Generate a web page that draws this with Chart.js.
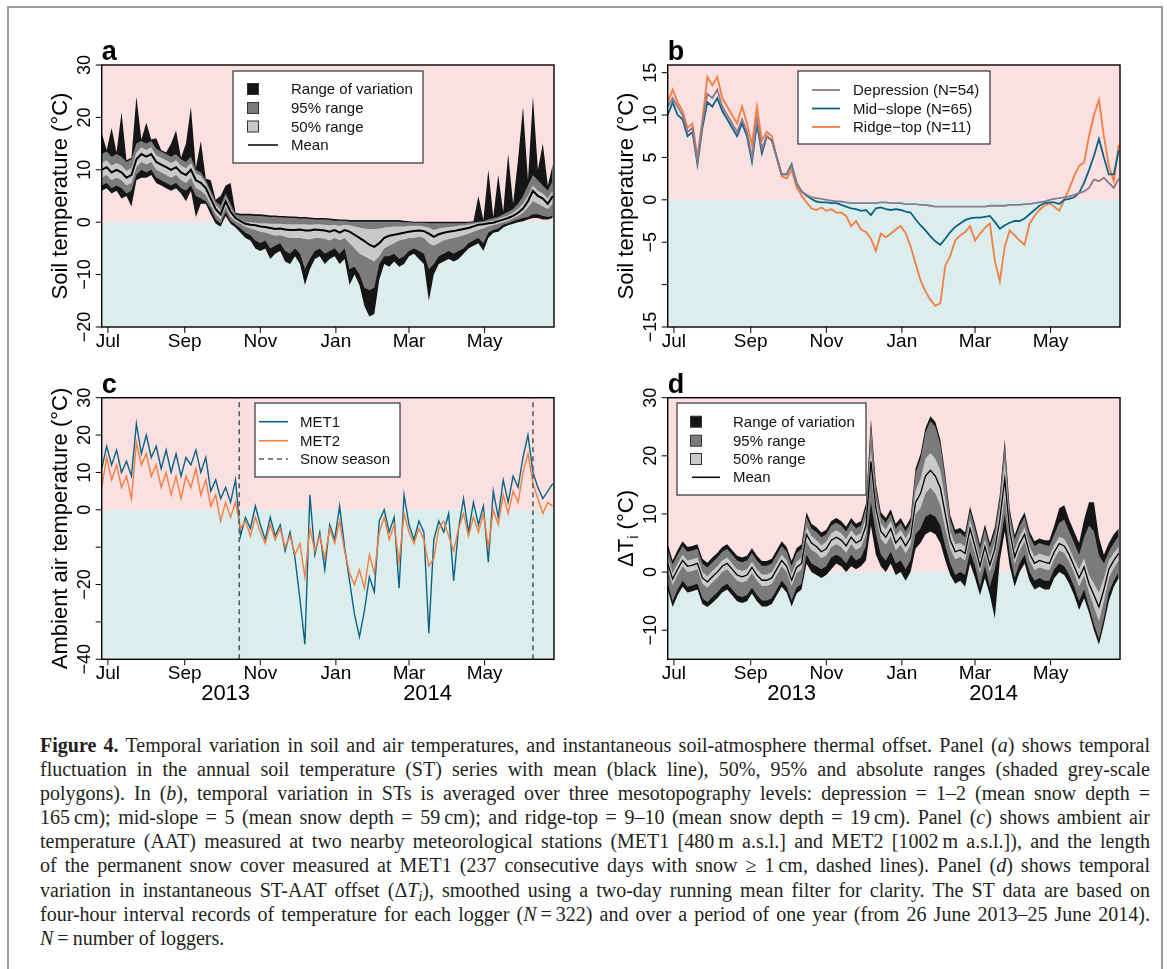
<!DOCTYPE html>
<html lang="en">
<head>
<meta charset="UTF-8" />
<title>Figure 4 - Soil and air temperatures</title>
<script src="https://cdn.jsdelivr.net/npm/chart.js"></script>
<style>
  body { margin: 0; background: #fff; width: 1167px; height: 969px; overflow: hidden; position: relative; }
  #frame { position: absolute; left: 7px; top: 6px; width: 1156px; height: 990px; border: 2px solid #9b9b9b; box-sizing: border-box; }
  canvas { position: absolute; }
  #caption { position: absolute; left: 40px; top: 733px; width: 1110px; font-family: "Liberation Serif", "DejaVu Serif", serif; font-size: 20px; line-height: 24.1px; color: #231f20; }
  #caption div { text-align: justify; text-align-last: justify; white-space: nowrap; }
  #caption div.last { text-align-last: left; }
  #caption sub { font-size: 0.7em; vertical-align: -0.25em; line-height: 0; }
</style>
</head>
<body>
<div id="frame"></div>
<canvas id="chartA" width="583" height="345" style="left:0;top:25px"></canvas>
<canvas id="chartB" width="584" height="345" style="left:583px;top:25px"></canvas>
<canvas id="chartC" width="583" height="345" style="left:0;top:370px"></canvas>
<canvas id="chartD" width="584" height="345" style="left:583px;top:370px"></canvas>

<div id="caption">
<div><b>Figure 4.</b> Temporal variation in soil and air temperatures, and instantaneous soil-atmosphere thermal offset. Panel (<i>a</i>) shows temporal</div>
<div>fluctuation in the annual soil temperature (ST) series with mean (black line), 50%, 95% and absolute ranges (shaded grey-scale</div>
<div>polygons). In (<i>b</i>), temporal variation in STs is averaged over three mesotopography levels: depression = 1–2 (mean snow depth =</div>
<div>165&thinsp;cm); mid-slope = 5 (mean snow depth = 59&thinsp;cm); and ridge-top = 9–10 (mean snow depth = 19&thinsp;cm). Panel (<i>c</i>) shows ambient air</div>
<div>temperature (AAT) measured at two nearby meteorological stations (MET1 [480&thinsp;m a.s.l.] and MET2 [1002&thinsp;m a.s.l.]), and the length</div>
<div>of the permanent snow cover measured at MET1 (237 consecutive days with snow ≥ 1&thinsp;cm, dashed lines). Panel (<i>d</i>) shows temporal</div>
<div>variation in instantaneous ST-AAT offset (Δ<i>T<sub>i</sub></i>), smoothed using a two-day running mean filter for clarity. The ST data are based on</div>
<div>four-hour interval records of temperature for each logger (<i>N</i>&#8239;=&#8239;322) and over a period of one year (from 26 June 2013–25 June 2014).</div>
<div class="last"><i>N</i>&#8239;=&#8239;number of loggers.</div>
</div>

<script>
// day 0 = 26 June 2013
const days = [
  0, 4, 8, 12, 16, 20, 24, 28, 32, 36,
  40, 44, 48, 52, 56, 60, 64, 68, 72, 76,
  80, 84, 88, 92, 96, 100, 104, 108, 112, 116,
  120, 124, 128, 132, 136, 140, 144, 148, 152, 156,
  160, 164, 168, 172, 176, 180, 184, 188, 192, 196,
  200, 204, 208, 212, 216, 220, 224, 228, 232, 236,
  240, 244, 248, 252, 256, 260, 264, 268, 272, 276,
  280, 284, 288, 292, 296, 300, 304, 308, 312, 316,
  320, 324, 328, 332, 336, 340, 344, 348, 352, 356,
  360, 364
];
const monthDays = [5, 67, 128, 189, 248, 309];
const monthLabels = ['Jul', 'Sep', 'Nov', 'Jan', 'Mar', 'May'];
const yearDays = [100, 263];
const yearLabels = ['2013', '2014'];
const snowSeason = [111, 348];

// panel a: soil temperature, all loggers
const aMean = [
  10, 10.5, 9.5, 10, 9.5, 8.5, 9, 12, 13, 12.5,
  13, 11.5, 11, 10.5, 10, 10.5, 9.5, 9, 10, 8,
  7.5, 6.5, 4.5, 2.5, 1.5, 4, 2, 0.8, 0.2, -0.3,
  -0.5, -0.6, -0.8, -0.9, -1.1, -1.3, -1.2, -1.4, -1.5, -1.5,
  -1.4, -1.6, -1.6, -1.4, -1.5, -1.6, -1.8, -1.5, -2.0, -1.5,
  -1.8, -2.4, -3.0, -3.6, -4.3, -4.7, -4.0, -3.0, -2.6, -2.4,
  -2.2, -2.0, -1.8, -1.7, -1.6, -1.7, -2.2, -2.8, -2.3, -2.0,
  -1.8, -1.7, -1.5, -1.3, -1.1, -0.8, -0.5, -0.4, -0.2, -0.1,
  0.2, 0.5, 0.8, 1.2, 1.8, 2.6, 4.0, 6.0, 5.0, 4.5,
  3.5, 5.0
];
const aMax = [
  17, 13.8, 18, 13.3, 21, 11.8, 12.3, 24, 15.8, 19,
  15.8, 16, 13.8, 13.3, 15, 17.5, 12.3, 15, 22, 10.3,
  15.5, 8.3, 8, 4.3, 5, 7, 7.5, 1.8, 1.6, 1.6,
  1.6, 1.5, 1.5, 1.4, 1.3, 1.3, 1.2, 1.2, 1.1, 1.1,
  1.0, 1.0, 0.9, 0.8, 0.8, 0.8, 0.7, 0.6, 0.5, 0.5,
  0.4, 0.4, 0.4, 0.4, 0.4, 0.4, 0.4, 0.4, 0.4, 0.4,
  0.4, 0.3, 0.2, 0.1, 0.1, 0.1, 0.1, 0.1, 0.1, 0.1,
  0.1, 0.1, 0.1, 0.1, 0.1, 0.2, 5, 0.4, 10, 1,
  9, 2, 13, 3.5, 12, 22, 8, 24, 10, 15,
  7, 11
];
const a95Hi = [
  13, 13.5, 12.5, 13, 12.5, 11.5, 12, 15, 15.5, 15,
  15.5, 14, 13.5, 13, 12.5, 13, 12, 11.5, 12.5, 10,
  9.5, 8, 6, 4, 3.2, 5.5, 3.5, 1.5, 1.3, 1.3,
  1.3, 1.2, 1.2, 1.1, 1.0, 1.0, 0.9, 0.9, 0.8, 0.8,
  0.7, 0.7, 0.6, 0.5, 0.5, 0.5, 0.4, 0.3, 0.3, 0.3,
  0.1, 0.1, 0.1, 0.1, 0.1, 0.1, 0.1, 0.1, 0.1, 0.1,
  0.1, 0, 0, -0.1, -0.1, -0.1, -0.2, -0.2, -0.2, -0.2,
  -0.2, -0.2, -0.2, -0.2, -0.1, 0, 0.1, 0.2, 0.5, 0.8,
  1, 1.5, 2, 2.5, 3.5, 5, 7, 9, 8, 7,
  6, 8
];
const a50Hi = [
  11.3, 11.8, 10.8, 11.3, 10.8, 9.8, 10.3, 13.3, 14.3, 13.8,
  14.3, 12.8, 12.3, 11.8, 11.3, 11.8, 10.8, 10.3, 11.3, 9.3,
  8.8, 7.5, 5.4, 3.3, 2.3, 4.8, 2.7, 1.1, 0.5, 0,
  0, -0.1, -0.2, -0.2, -0.3, -0.3, -0.3, -0.4, -0.4, -0.4,
  -0.4, -0.4, -0.5, -0.4, -0.4, -0.5, -0.6, -0.5, -0.7, -0.5,
  -0.6, -0.8, -1.0, -1.2, -1.3, -1.3, -1.2, -1.0, -0.9, -0.8,
  -0.8, -0.8, -0.7, -0.7, -0.7, -0.8, -1.0, -1.5, -1.2, -1.0,
  -0.9, -0.8, -0.7, -0.6, -0.5, -0.3, -0.1, 0, 0.2, 0.3,
  0.6, 1, 1.3, 1.8, 2.5, 3.5, 5, 7, 6, 5.5,
  4.5, 6
];
const a50Lo = [
  8.5, 9, 8, 8.5, 8, 7, 7.5, 10.5, 11.5, 11,
  11.5, 10, 9.5, 9, 8.5, 9, 8, 7.5, 8.5, 6.5,
  6, 5.2, 3.3, 1.5, 0.5, 3, 1, 0.2, -0.3, -0.9,
  -1.2, -1.5, -1.8, -2, -2.3, -2.6, -2.5, -2.8, -3, -3,
  -3, -3.2, -3.3, -3, -3, -3.2, -3.5, -3, -3.5, -3,
  -4, -5, -6, -6.5, -7, -7.5, -6.5, -5, -4.5, -4,
  -3.5, -3.3, -3, -3, -2.8, -3, -4, -4.5, -4, -3.5,
  -3.2, -3, -2.8, -2.5, -2.2, -1.8, -1.5, -1.2, -0.8, -0.6,
  -0.3, 0, 0.3, 0.7, 1.2, 1.8, 2.8, 4, 3.5, 3,
  2.5, 3.5
];
const a95Lo = [
  7, 7.5, 6.5, 7, 6.5, 5.5, 6, 9, 10, 9.5,
  10, 8.5, 8, 7.5, 7, 7.5, 6.5, 6, 7, 5,
  4.5, 4, 2.5, 0.5, -0.3, 2, 0.3, -0.5, -1.2, -2,
  -2.5, -3.5, -4, -3.5, -5, -4.5, -4, -5.5, -6, -5,
  -6, -9, -7, -5.5, -5, -6, -5.5, -5, -6, -5,
  -9, -8.5, -10, -12.5, -13, -12.5, -8, -6.5, -6.5, -6,
  -7, -6.5, -5.5, -5, -5.5, -6, -9, -8, -6.5, -6,
  -5.5, -6, -5.5, -5, -4, -3.5, -3, -4, -2, -1.5,
  -1.2, -0.5, -0.2, 0.2, 0.5, 0.8, 1, 1.5, 1.5, 1.2,
  1, 1.2
];
const aMin = [
  6, 6.5, 5.5, 6, 4.5, 5, 3, 8, 8.5, 8.5,
  9, 7.5, 7, 6.5, 6, 6.5, 5.5, 4, 6, 1,
  3.5, 3.5, 1.5, -0.3, -0.8, 1.2, -0.3, -1, -2, -3,
  -3.5, -5, -5.5, -5, -7, -6, -5.5, -7.5, -8, -6.5,
  -8, -12, -9, -7, -6.5, -8, -7, -6.5, -8, -7,
  -12, -10, -12, -16, -18, -17.5, -11, -8, -8.5, -7.5,
  -8.5, -8, -6.5, -6, -7, -8, -15, -10, -8, -7.5,
  -7, -7.5, -7, -6, -5, -4.5, -4, -5.5, -3, -2,
  -1.8, -1, -0.6, -0.3, 0, 0.2, 0.5, 0.8, 0.8, 0.5,
  0.5, 0.8
];

// panel b: soil temperature by mesotopography
const bDepression = [
  11, 12, 11, 10, 8, 8.5, 4.5, 9, 12.5, 12,
  13, 11, 10, 9, 8, 9.5, 8, 5, 9.5, 6,
  7.5, 7, 5, 3, 3, 4, 2, 1, 0.6, 0.3,
  0.2, 0.1, 0.0, -0.1, -0.2, -0.2, -0.3, -0.4, -0.4, -0.4,
  -0.4, -0.4, -0.4, -0.3, -0.3, -0.4, -0.4, -0.4, -0.5, -0.5,
  -0.5, -0.6, -0.6, -0.7, -0.8, -0.8, -0.8, -0.8, -0.8, -0.8,
  -0.8, -0.8, -0.8, -0.8, -0.8, -0.7, -0.7, -0.7, -0.7, -0.6,
  -0.6, -0.6, -0.5, -0.5, -0.4, -0.3, -0.2, 0.0, 0.1, 0.2,
  0.3, 0.4, 0.6, 0.8, 1.0, 1.4, 2.4, 2.2, 2.6, 2.0,
  1.4, 2.5
];
const bMidSlope = [
  10, 11.5, 10, 9.5, 7.5, 8, 4.2, 8.5, 11.5, 11,
  12, 10.5, 9.5, 8.5, 7.5, 9, 7.5, 4.5, 9, 5.5,
  7.5, 7, 5, 3, 3, 4.2, 2, 1, 0.5, 0.1,
  -0.2, -0.3, -0.3, -0.4, -0.4, -0.6, -0.8, -1.0, -1.1, -1.3,
  -1.2, -1.8, -1.0, -0.9, -1.1, -1.2, -1.1, -1.2, -1.4, -1.5,
  -2.3, -3.0, -3.6, -4.3, -4.9, -5.3, -4.6, -3.8, -3.2, -2.8,
  -2.4, -2.2, -2.1, -2.1, -2.0, -1.9, -2.6, -3.4, -3.0, -2.7,
  -2.5, -2.5, -2.2, -1.7, -1.2, -0.7, -0.4, -0.3, -0.3, -0.5,
  0.0, 0.1, 0.3, 0.8, 2.0, 3.5, 5.2, 7.2, 5.0, 3.0,
  3.0, 5.8
];
const bRidgeTop = [
  11.5, 13, 11.5, 10.5, 8.5, 9, 5, 9.5, 14.5, 13.5,
  14.5, 12, 11, 10, 9, 11, 9, 6.5, 11, 7,
  8, 7.5, 5, 2.8, 2.5, 3.5, 1.5, 0.5, -0.3, -1.0,
  -1.2, -0.9, -1.3, -1.1, -1.5, -1.5, -1.9, -3.1, -2.5, -3.5,
  -3.8, -4.6, -6.0, -4.0, -4.4, -4.0, -3.5, -3.1, -3.9, -5.5,
  -7.5, -9.5, -10.8, -11.8, -12.5, -12.2, -7.8, -6.6, -4.8, -4.2,
  -3.8, -3.1, -4.8, -4.0, -3.3, -2.8, -7.2, -9.6, -5.5, -3.6,
  -4.2, -4.8, -5.3, -2.8, -1.9, -1.2, -0.7, -0.4, -0.8, -1.3,
  0.0, 1.3, 2.8, 4.0, 4.4, 7.5, 10.0, 11.8, 7.5, 4.0,
  2.2, 6.5
];

// panel c: ambient air temperature
const cMet1 = [
  11, 17, 12, 16, 10, 13, 9, 23, 15, 20,
  14, 17, 11, 16, 10, 15, 9, 14, 12, 16,
  10, 14, 5, 8, 3, 6, 2, 8, -7, -2,
  -5, 1, -4, -8, -2, -7, -4, -11, -6, -13,
  -24, -36, 4, -12, -6, -16, -4, -8, 1, -10,
  -19, -28, -34, -27, -18, -22, -3, 0, -6, -2,
  -21, 4, -4, -8, -3, -6, -33, -8, -3, -6,
  -1, -19, -5, 3, -6, 2, -4, 1, -14, 5,
  -2, 8, 2, 9, 6, 14, 20, 10, 6, 3,
  5, 7
];
const cMet2 = [
  6, 14, 8, 12, 6, 9, 3, 18, 12, 15,
  9, 12, 6, 10, 4, 9, 3, 9, 6, 11,
  4, 8, 1, 4, -3, 2, -2, 2, -5, -3,
  -7, -2, -6, -9, -4, -8, -5, -10, -7, -12,
  -9, -18, -5, -11, -7, -13, -5, -9, -3, -11,
  -17, -20, -16, -21, -12, -17, -6, -2, -8, -4,
  -14, -1, -6, -9, -5, -8, -15, -13, -5, -3,
  -7, -11, -5, -1, -7, -2, -6, -1, -10, 0,
  -4, 4, -1, 5, 2, 10, 15, 7, 3, -1,
  2, 1
];

// panel d: soil minus air temperature offset
const dMean = [
  1.5, -1.2, 0.5, 2, 1, 1.2, 1.5, -1, -1.7, -0.8,
  0, 1, 1.5, 0.5, -0.5, -0.8, -0.5, 0.8, -0.5, -1.4,
  -1.4, -1, 0.5, 2, 1, -1.4, 0.8, 1.5, 6.5, 5,
  4.4, 3.5, 4, 5.5, 6, 5.5, 4.5, 6, 5, 5.5,
  8, 19, 11, 7, 6, 7.5, 5, 6, 4.5, 6,
  12, 13.5, 16.5, 17.5, 16.5, 14.5, 10, 5.5, 3.5, 3.8,
  3.2, 7.5, 4.4, 1, 4.4, 1.2, 4, 9, 16, 7,
  2.6, 4.9, 6.5, 3.2, 1.5, 2, 1.7, 1.5, 3.5, 4.9,
  4.5, 3, 1, -1, 0.9, -2, -4, -6, -3, 0.5,
  2, 3.2
];
const dMax = [
  4.8, 2, 3.8, 5.3, 4.3, 4.5, 4.8, 2.3, 1.6, 2.5,
  3.3, 4.3, 4.8, 3.8, 2.8, 2.5, 2.8, 4.1, 2.8, 1.9,
  1.9, 2.3, 3.8, 5.3, 4.3, 1.9, 4.1, 4.8, 10.3, 8.3,
  7.7, 6.8, 7.3, 8.8, 9.3, 8.8, 7.8, 9.3, 8.3, 8.8,
  11.8, 26.3, 15.3, 10.3, 9.3, 10.8, 8.3, 9.3, 7.8, 9.3,
  17.8, 20.3, 24.8, 26.8, 25.8, 22.8, 16.8, 9.8, 7.3, 7.6,
  6.8, 11.3, 8.2, 4.8, 8.2, 5, 7.8, 13.3, 22.8, 10.8,
  6.4, 8.7, 10.3, 7, 5.3, 5.8, 5.5, 5.5, 8, 11,
  11.5, 9, 7, 5, 9, 12, 12, 6, 3, 5,
  6.5, 7.5
];
const d95Hi = [
  4, 1.3, 3, 4.5, 3.5, 3.7, 4, 1.5, 0.8, 1.7,
  2.5, 3.5, 4, 3, 2, 1.7, 2, 3.3, 2, 1.1,
  1.1, 1.5, 3, 4.5, 3.5, 1.1, 3.3, 4, 9.5, 7.5,
  6.9, 6, 6.5, 8, 8.5, 8, 7, 8.5, 7.5, 8,
  11, 25.5, 14.5, 9.5, 8.5, 10, 7.5, 8.5, 7, 8.5,
  17, 19.5, 24, 26, 25, 22, 16, 9, 6.5, 6.8,
  6, 10.5, 7.4, 4, 7.4, 4.2, 7, 12.5, 22, 10,
  5.6, 7.9, 9.5, 6.2, 4.5, 5, 4.7, 4.5, 6.5, 8.5,
  9, 7, 5, 3, 6, 8, 7, 3, 1.5, 3.5,
  5, 6.2
];
const d50Hi = [
  2.5, -0.2, 1.5, 3, 2, 2.2, 2.5, 0, -0.7, 0.2,
  1, 2, 2.5, 1.5, 0.5, 0.2, 0.5, 1.8, 0.5, -0.4,
  -0.4, 0, 1.5, 3, 2, -0.4, 1.8, 2.5, 7.8, 6.2,
  5.5, 4.6, 5.2, 6.7, 7.2, 6.7, 5.7, 7.2, 6.2, 6.7,
  9.5, 21, 12.5, 8.3, 7.3, 8.8, 6.3, 7.3, 5.8, 7.3,
  14, 16, 19.5, 20.5, 19.5, 17.5, 12.5, 7, 4.8, 5,
  4.4, 9, 5.6, 2.2, 5.6, 2.4, 5.2, 11, 19, 8.5,
  3.8, 6.1, 7.7, 4.4, 2.7, 3.2, 2.9, 2.7, 4.7, 6.1,
  5.7, 4.2, 2.2, 0.5, 2.4, -0.5, -2, -3.5, -1, 2,
  3.3, 4.4
];
const d50Lo = [
  0.5, -2.2, -0.5, 1, 0, 0.2, 0.5, -2, -2.7, -1.8,
  -1, 0, 0.5, -0.5, -1.5, -1.8, -1.5, -0.2, -1.5, -2.4,
  -2.4, -2, -0.5, 1, 0, -2.4, -0.2, 0.5, 5.2, 3.8,
  3.3, 2.4, 2.8, 4.3, 4.8, 4.3, 3.3, 4.8, 3.8, 4.3,
  6.5, 17, 9.5, 5.7, 4.7, 6.2, 3.7, 4.7, 3.2, 4.7,
  10, 11, 13.5, 14.5, 13.5, 11.5, 7.5, 4, 2.2, 2.6,
  2, 6, 3.2, -0.2, 3.2, 0, 2.8, 7, 13, 5.5,
  1.4, 3.7, 5.3, 2, 0.3, 0.8, 0.5, 0.3, 2.3, 3.7,
  3.3, 1.8, -0.2, -2.5, -0.6, -3.5, -6, -8.5, -5, -1,
  0.7, 2
];
const d95Lo = [
  -2, -5, -3, -1.5, -2.5, -2.3, -2, -4.5, -5.2, -4.3,
  -3.5, -2.5, -2, -3, -4, -4.3, -4, -2.7, -4, -4.9,
  -4.9, -4.5, -3, -1.5, -2.5, -4.9, -2.7, -2, 3, 1.5,
  1, 0.5, 1, 2.5, 3, 2.5, 1.5, 3, 2, 2.5,
  4.5, 12, 6.5, 3, 2, 3.5, 1.5, 2, 0.5, 2,
  6.5, 7.5, 9.5, 10, 9.5, 8, 4.5, 1.5, -0.5, 0,
  -0.5, 3.5, 1, -2.5, 1, -2.5, 0.5, 4.5, 10, 3,
  -1, 1.5, 3, 0, -1.5, -1, -1.5, -1.5, 0.5, 1.5,
  1, -0.5, -2.5, -5, -3, -6, -9, -11.5, -8, -3.5,
  -1.5, 0
];
const dMin = [
  -3, -6, -4, -2.5, -3.5, -3.3, -3, -5.5, -6, -5.3,
  -4.5, -3.5, -3, -4, -5, -5.3, -5, -3.7, -5, -5.9,
  -5.9, -5.5, -4, -2.5, -3.5, -5.9, -3.7, -3, 1.5, 0,
  -0.5, -1, -0.5, 0.5, 1.5, 1, 0, 1, 0.5, 1,
  2, 8, 3, 1, 0, 1.5, -0.5, 0, -1.5, 0,
  4, 5, 6.5, 7, 6.5, 5, 2, -0.5, -2, -1.5,
  -2.5, 1.5, -1, -4, -1, -4, -8, 2, 7, 1,
  -2.5, 0, 1.5, -1.5, -3, -2.5, -3, -3, -1, 0,
  -0.5, -2, -4, -6.5, -4.5, -7, -10, -12.5, -9, -5,
  -2.5, -1
];

const bandLabels = ['Range of variation', '95% range', '50% range', 'Mean'];
const siteLabels = ['Depression (N=54)', 'Mid\u2212slope (N=65)', 'Ridge\u2212top (N=11)'];
const stationLabels = ['MET1', 'MET2', 'Snow season'];

const PINK = '#fbe0e1';
const TEAL = '#dbeeed';
const C_RANGE = '#151515';
const C_95 = '#7b7b7b';
const C_50 = '#c9c9c9';
const C_DEP = '#8b7a8c';
const C_MID = '#0b6383';
const C_RIDGE = '#f47d42';
const SANS = '"Liberation Sans", Arial, sans-serif';

const pts = arr => days.map((d, i) => ({ x: d, y: arr[i] }));

function band(hi, lo, color) {
  return [
    { data: pts(hi), fill: '+1', backgroundColor: color, borderWidth: 0, pointRadius: 0 },
    { data: pts(lo), fill: false, borderWidth: 0, pointRadius: 0 }
  ];
}
function line(arr, color, width) {
  return { data: pts(arr), borderColor: color, borderWidth: width, pointRadius: 0, fill: false };
}
function vline(day, yMin, yMax) {
  return { data: [{ x: day, y: yMin }, { x: day, y: yMax }], borderColor: '#5a5a5a', borderWidth: 1.6,
           borderDash: [5, 4], pointRadius: 0, fill: false };
}

function drawLegend(ctx, a, L) {
  const bx = a.left + L.x, by = a.top + L.y;
  ctx.fillStyle = '#fff';
  ctx.fillRect(bx, by, L.w, L.h);
  ctx.strokeStyle = '#333';
  ctx.lineWidth = 1.2;
  ctx.strokeRect(bx, by, L.w, L.h);
  ctx.font = '15px ' + SANS;
  ctx.textAlign = 'left';
  ctx.textBaseline = 'middle';
  L.items.forEach((it, i) => {
    const ry = by + L.rows[i];
    if (it.box) {
      ctx.fillStyle = it.box;
      ctx.fillRect(bx + L.sx - 5.5, ry - 5.5, 11, 11);
      ctx.strokeStyle = '#333';
      ctx.lineWidth = 1;
      ctx.strokeRect(bx + L.sx - 5.5, ry - 5.5, 11, 11);
    } else {
      ctx.strokeStyle = it.line;
      ctx.lineWidth = it.width;
      ctx.setLineDash(it.dash || []);
      ctx.beginPath();
      ctx.moveTo(bx + L.l0, ry);
      ctx.lineTo(bx + L.l1, ry);
      ctx.stroke();
      ctx.setLineDash([]);
    }
    ctx.fillStyle = '#111';
    ctx.fillText(it.text, bx + L.tx, ry + 1);
  });
}

const rAxes = {
  id: 'rAxes',
  beforeDraw(chart) {
    const { ctx, chartArea: a, scales: { y } } = chart;
    const y0 = y.getPixelForValue(0);
    ctx.save();
    ctx.fillStyle = PINK;
    ctx.fillRect(a.left, a.top, a.width, y0 - a.top);
    ctx.fillStyle = TEAL;
    ctx.fillRect(a.left, y0, a.width, a.bottom - y0);
    ctx.restore();
  },
  afterDraw(chart, args, o) {
    const { ctx, chartArea: a, scales: { x, y } } = chart;
    ctx.save();
    drawLegend(ctx, a, o.legend);
    ctx.strokeStyle = '#000';
    ctx.lineWidth = 1.4;
    ctx.strokeRect(a.left, a.top, a.width, a.height);

    ctx.lineWidth = 1;
    ctx.fillStyle = '#000';
    ctx.font = '18px ' + SANS;
    o.yTicks.forEach((v, i) => {
      const py = y.getPixelForValue(v);
      ctx.beginPath();
      ctx.moveTo(a.left - 6, py);
      ctx.lineTo(a.left, py);
      ctx.stroke();
      const lab = o.yLabels[i];
      if (lab) {
        ctx.save();
        ctx.translate(a.left - 12, py);
        ctx.rotate(-Math.PI / 2);
        ctx.textAlign = 'center';
        ctx.textBaseline = 'alphabetic';
        ctx.fillText(lab, 0, 0);
        ctx.restore();
      }
    });

    ctx.font = '19px ' + SANS;
    ctx.textAlign = 'center';
    ctx.textBaseline = 'alphabetic';
    monthDays.forEach((d, i) => {
      const px = x.getPixelForValue(d);
      ctx.beginPath();
      ctx.moveTo(px, a.bottom);
      ctx.lineTo(px, a.bottom + 6);
      ctx.stroke();
      ctx.fillText(monthLabels[i], px, a.bottom + 20);
    });
    if (o.years) {
      ctx.font = '22px ' + SANS;
      yearDays.forEach((d, i) => ctx.fillText(yearLabels[i], x.getPixelForValue(d), a.bottom + 41));
    }

    // panel letter
    ctx.font = 'bold 27px ' + SANS;
    ctx.textAlign = 'left';
    ctx.fillText(o.letter, a.left, a.top - 5);

    // y title
    ctx.save();
    ctx.translate(a.left - 35, (a.top + a.bottom) / 2);
    ctx.rotate(-Math.PI / 2);
    ctx.textBaseline = 'alphabetic';
    if (o.delta) {
      ctx.font = '22px ' + SANS;
      const w1 = ctx.measureText('\u0394T').width;
      const w3 = ctx.measureText(' (\u00b0C)').width;
      ctx.font = '15px ' + SANS;
      const w2 = ctx.measureText('i').width;
      let sx = -(w1 + w2 + w3) / 2;
      ctx.textAlign = 'left';
      ctx.font = '22px ' + SANS;
      ctx.fillText('\u0394T', sx, 0);
      ctx.font = '15px ' + SANS;
      ctx.fillText('i', sx + w1, 5);
      ctx.font = '22px ' + SANS;
      ctx.fillText(' (\u00b0C)', sx + w1 + w2, 0);
    } else {
      ctx.font = '22px ' + SANS;
      ctx.textAlign = 'center';
      ctx.fillText(o.title, 0, 0);
    }
    ctx.restore();
    ctx.restore();
  }
};

function makeChart(id, datasets, yMin, yMax, pad, axes) {
  return new Chart(document.getElementById(id), {
    type: 'line',
    data: { datasets },
    options: {
      responsive: false,
      animation: false,
      devicePixelRatio: 1,
      events: [],
      layout: { padding: pad },
      elements: { line: { tension: 0 }, point: { radius: 0 } },
      scales: {
        x: { type: 'linear', min: 0, max: 365, display: false },
        y: { type: 'linear', min: yMin, max: yMax, display: false }
      },
      plugins: { legend: { display: false }, tooltip: { enabled: false }, rAxes: axes }
    },
    plugins: [rAxes]
  });
}

const padLeft = { left: 101.7, right: 29 };
const padRight = { left: 84.7, right: 47 };
const bandLegendItems = [
  { box: C_RANGE, text: bandLabels[0] },
  { box: C_95, text: bandLabels[1] },
  { box: C_50, text: bandLabels[2] },
  { line: '#111', width: 1.6, text: bandLabels[3] }
];

makeChart('chartA', [
  line(aMean, '#000', 2),
  ...band(a50Hi, a50Lo, C_50),
  ...band(a95Hi, a95Lo, C_95),
  ...band(aMax, aMin, C_RANGE)
], -20, 30, { ...padLeft, top: 40, bottom: 43 }, {
  letter: 'a', title: 'Soil temperature (\u00b0C)',
  yTicks: [30, 20, 10, 0, -10, -20],
  yLabels: ['30', '20', '10', '0', '\u221210', '\u221220'],
  legend: { x: 131.3, y: 6, w: 190, h: 92, rows: [18, 37, 55.5, 74], sx: 20, tx: 58, l0: 15, l1: 45,
            items: bandLegendItems }
});

makeChart('chartB', [
  line(bDepression, C_DEP, 1.8),
  line(bMidSlope, C_MID, 1.8),
  line(bRidgeTop, C_RIDGE, 1.8)
], -15, 15.9, { ...padRight, top: 40, bottom: 43 }, {
  letter: 'b', title: 'Soil temperature (\u00b0C)',
  yTicks: [15, 10, 5, 0, -5, -10, -15],
  yLabels: ['15', '10', '5', '0', '\u22125', null, '\u221215'],
  legend: { x: 130.3, y: 6, w: 192, h: 73, rows: [19, 37.5, 56], tx: 55, l0: 14, l1: 42,
            items: [
              { line: C_DEP, width: 1.8, text: siteLabels[0] },
              { line: C_MID, width: 1.8, text: siteLabels[1] },
              { line: C_RIDGE, width: 1.8, text: siteLabels[2] }
            ] }
});

makeChart('chartC', [
  vline(snowSeason[0], -40, 30),
  vline(snowSeason[1], -40, 30),
  line(cMet2, C_RIDGE, 1.4),
  line(cMet1, C_MID, 1.4)
], -40, 30, { ...padLeft, top: 27.7, bottom: 55.7 }, {
  letter: 'c', title: 'Ambient air temperature (\u00b0C)', years: true,
  yTicks: [30, 20, 10, 0, -10, -20, -30, -40],
  yLabels: ['30', '20', '10', '0', null, '\u221220', null, '\u221240'],
  legend: { x: 153.3, y: 5.3, w: 145, h: 74, rows: [18.7, 37.7, 56], tx: 45, l0: 4, l1: 33,
            items: [
              { line: C_MID, width: 1.6, text: stationLabels[0] },
              { line: C_RIDGE, width: 1.6, text: stationLabels[1] },
              { line: '#5a5a5a', width: 1.4, dash: [5, 4], text: stationLabels[2] }
            ] }
});

makeChart('chartD', [
  line(dMean, '#000', 1.3),
  ...band(d50Hi, d50Lo, C_50),
  ...band(d95Hi, d95Lo, C_95),
  ...band(dMax, dMin, C_RANGE)
], -15, 30, { ...padRight, top: 27.7, bottom: 55.7 }, {
  letter: 'd', delta: true, years: true,
  yTicks: [30, 20, 10, 0, -10],
  yLabels: ['30', '20', '10', '0', '\u221210'],
  legend: { x: 9.3, y: 5.3, w: 189, h: 92, rows: [18.7, 37.7, 56, 74.3], sx: 19, tx: 56, l0: 15, l1: 43,
            items: bandLegendItems }
});
</script>
</body>
</html>
